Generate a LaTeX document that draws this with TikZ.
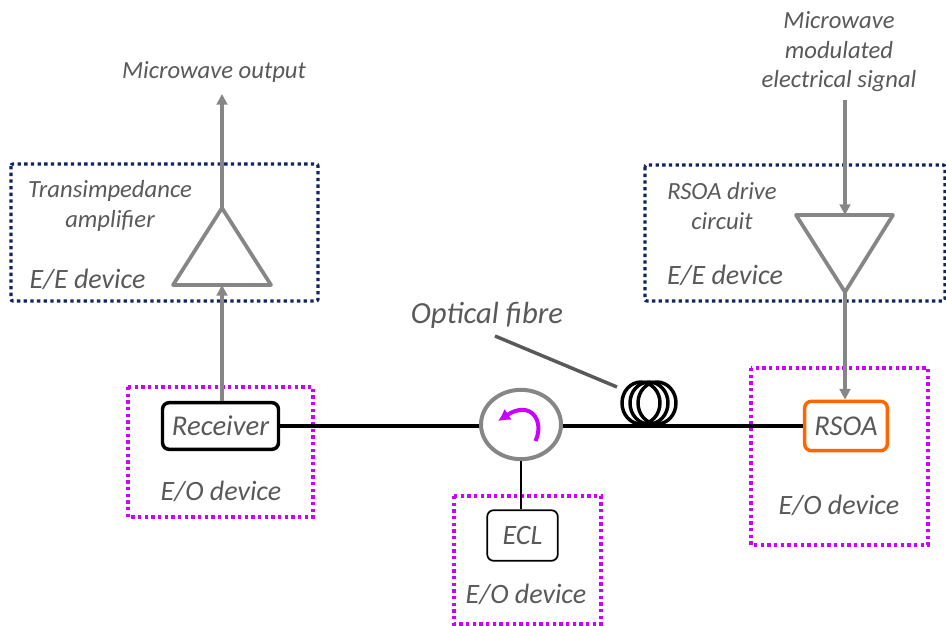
\documentclass[tikz,border=0pt]{standalone}
\usepackage{fontspec}
\setmainfont{Carlito}
\usetikzlibrary{arrows.meta,shapes.geometric}
\definecolor{txtgrey}{HTML}{595959}
\definecolor{wiregrey}{HTML}{868686}
\definecolor{eeblue}{HTML}{0F2460}
\definecolor{eomag}{HTML}{CC00FF}
\definecolor{rsoaorange}{HTML}{FF6600}
\tikzset{
  lab/.style={text=txtgrey,font=\itshape\fontsize{#1}{1.2\dimexpr#1pt\relax}\selectfont,align=center,inner sep=0pt},
  lab/.default=18,
  eebox/.style={draw=eeblue,line width=2.4pt,dash pattern=on 2.5pt off 2.5pt,rounded corners=1.5pt},
  eobox/.style={draw=eomag,line width=2.4pt,dash pattern=on 2.5pt off 2.5pt},
  devbox/.style={draw=black,rounded corners=5pt,line width=#1,fill=white},
  greyarr/.style={draw=wiregrey,line width=2.8pt,-{Triangle[length=8pt,width=8pt]}},
  greyline/.style={draw=wiregrey,line width=2.8pt,line join=round},
  fibre/.style={draw=black,line width=3pt},
}
\begin{document}
\begin{tikzpicture}[x=0.75pt,y=-0.75pt]
    \useasboundingbox (0,0) rectangle (946,625);

    % dotted device boxes
    \draw[eebox] (11,164) rectangle (318,301);
    \draw[eebox] (645,165) rectangle (945,301);
    \draw[eobox] (128,387) rectangle (313,517);
    \draw[eobox] (751,368) rectangle (928,545);
    \draw[eobox] (454,496) rectangle (601,624);

    % triangles
    \coordinate (tiatop) at (222,208);
    \coordinate (tiabase) at (222,285);
    \coordinate (drvtop) at (845,215);
    \coordinate (drvtip) at (845,292);
    \draw[greyline] (tiatop) -- (173,285) -- (271,285) -- cycle;
    \draw[greyline] (796,215) -- (893,215) -- (drvtip) -- cycle;

    % fibre coil
    \foreach \cx in {641,649,657}
        \draw[draw=black,line width=2.6pt] (\cx,403) ellipse (19 and 21);

    \node[ellipse,draw=wiregrey,line width=3pt,fill=white,minimum width=60pt,minimum height=52pt,inner sep=0pt] (circ) at (521,424.5) {};
    \node[devbox=2.6pt,lab=21.5,minimum width=87pt,minimum height=35pt] (receiver) at (220.5,426) {Receiver};
    \node[draw=rsoaorange,rounded corners=5pt,line width=2.6pt,lab=21.5,minimum width=62pt,minimum height=37pt] (rsoa) at (846,426) {RSOA};
    \node[devbox=1.3pt,lab=21,minimum width=53pt,minimum height=38pt] (ecl) at (522.5,535.5) {ECL};

    \draw[fibre] (receiver.east) -- (receiver.east -| circ.west);
    \draw[fibre] (rsoa.west -| circ.east) -- (rsoa.west);
    \draw[draw=black,line width=2.2pt] (circ.south) -- (circ.south |- ecl.north);

    % rotation arrow
    \draw[draw=eomag,line width=3pt,-{Latex[length=9pt,width=10pt]}] (535.5,441) .. controls (545,420) and (530,400) .. (498,421);

    \coordinate (outend) at (222,94);
    \coordinate (inend) at (845,100);
    \draw[greyarr] (tiatop) -- (outend);
    \draw[greyarr] (receiver.north -| tiabase) -- (tiabase);
    \draw[greyarr] (inend) -- (drvtop);
    \draw[greyarr] (drvtip) -- (rsoa.north -| drvtip);

    \node[lab=18.5] (outlabel) at (214,72) {Microwave output};
    \node[lab=18.5] (inlabel) at (839,52) {Microwave\\modulated\\electrical signal};
    \node[lab=18.5] (tialabel) at (110,206) {Transimpedance\\amplifier};
    \node[lab=18.5] (drvlabel) at (722,206) {RSOA drive\\circuit};
    \node[lab=21] (eeleft) at (87.5,279) {E/E device};
    \node[lab=21] (eeright) at (725,275) {E/E device};
    \node[lab=21] (eoleft) at (221,491) {E/O device};
    \node[lab=21] (eoright) at (839,505) {E/O device};
    \node[lab=21] (eomid) at (526,594) {E/O device};
    \node[lab=23] (fibrelabel) at (487,315) {Optical fibre};

    \coordinate (coilpt) at (617,387);
    \draw[draw=txtgrey,line width=2.6pt] (495,336) -- (coilpt);
\end{tikzpicture}
\end{document}
